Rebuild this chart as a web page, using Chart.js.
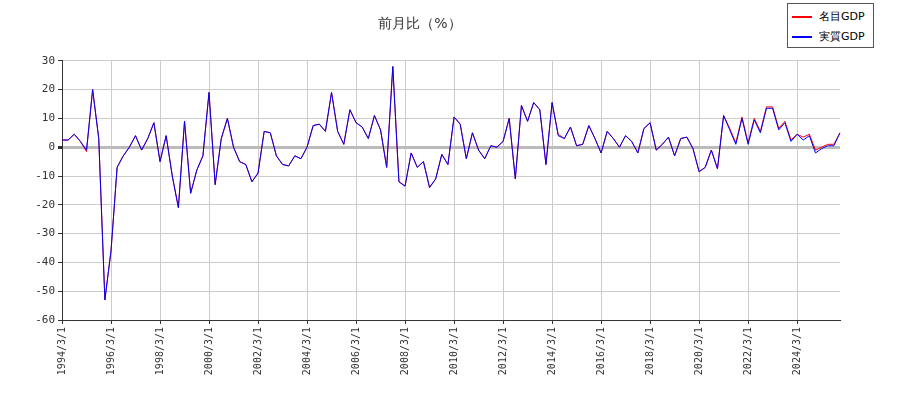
<!DOCTYPE html>
<html><head><meta charset="utf-8">
<script src="https://cdn.jsdelivr.net/npm/chart.js@4"></script>
<style>
body{margin:0;background:#fff;font-family:"DejaVu Sans",sans-serif;}
#wrap{position:relative;width:900px;height:400px;}
#legend{position:absolute;left:787px;top:3px;width:85px;height:43px;border:1px solid #555;background:#fff;font-size:11px;}
.it{position:absolute;left:4px;display:flex;align-items:center;}
.it span{display:inline-block;width:20px;height:2px;margin-right:7px;}
</style></head>
<body><div id="wrap"><canvas id="c" width="900" height="400"></canvas>
<div id="legend"><div class="it" style="top:5px"><span style="background:#f00"></span>名目GDP</div>
<div class="it" style="top:25px"><span style="background:#00f"></span>実質GDP</div></div></div>
<script>
const startYear = 1994;
const realGDP = [2.5,2.5,4.5,2,-1,20,3,-53,-36,-7,
-3,0,4,-1,3,8.5,-5,4,-10,-21,
9,-16,-8,-3,19,-13,3,10,0,-5,
-6,-12,-9,5.5,5,-3,-6,-6.5,-3,-4,
0,7.5,8,5.5,19,5.5,1,13,8.5,7,
3,11,6,-7,28,-12,-13.5,-2,-7,-5,
-14,-11,-2.5,-6,10.5,8,-4,5,-1,-4,
0.5,0,2,10,-11,14.5,9,15.5,13,-6,
15.5,4,3,7,0.5,1,7.5,3,-2,5.5,
3,0,4,2,-2,6.5,8.5,-1,1,3.5,
-3,3,3.5,-0.5,-8.5,-7,-1,-7.5,11,6,
1,10,1,9.5,5,13.5,13.5,6,8.5,2,
4.5,2.5,4,-2,-0.5,0.5,0.5,5];
const nominalGDP = [2.5,2.5,4.5,2,-1.5,20,3,-53,-36,-7,
-3,0,4,-1,3,8.5,-5,4,-10,-21,
9,-16,-8,-3,19,-13,3,10,0,-5,
-6,-12,-9,5.5,5,-3,-6,-6.5,-3,-4,
0,7.5,8,5.5,19,5.5,1,13,8.5,7,
3,11,6,-7,28,-12,-13.5,-2,-7,-5,
-14,-11,-2.5,-6,10.5,8,-4,5,-1,-4,
0.5,0,2,10,-11,14.5,9,15.5,13,-6,
15.5,4.5,3,7,0.5,1,7.5,3,-2,5.5,
3,0,4,2,-2,6.5,8.5,-1,1,3.5,
-3,3,3.5,-0.5,-8.5,-7,-1,-7.5,11,6.5,
1.5,10.5,1.5,10,5.5,14,14,6.5,9,2.5,
4.5,3.5,4.5,-1,0,1,1,5];
const yTicks = [30,20,10,0,-10,-20,-30,-40,-50,-60];
const labels = realGDP.map((_, i) => (startYear + Math.floor(i/4)) + '/' + (3*(i%4)+3) + '/1');
new Chart(document.getElementById('c'), {
  type: 'line',
  data: { labels, datasets: [
    {label:'実質GDP', data: realGDP, borderColor:'#00f', borderWidth:1, pointRadius:0, tension:0, order:0},
    {label:'名目GDP', data: nominalGDP, borderColor:'#f00', borderWidth:1, pointRadius:0, tension:0, order:1}
  ]},
  options: {
    responsive:false, animation:false,
    layout:{padding:{left:0,right:60,top:0,bottom:0}},
    plugins:{legend:{display:false}, tooltip:{enabled:false},
      title:{display:true,text:'前月比（%）',color:'#333',font:{size:14,family:'DejaVu Sans',weight:'normal'},padding:{top:16,bottom:28}}},
    scales:{
      x:{offset:false, afterFit:(s)=>{s.height=80;}, grid:{color:'#ccc', drawTicks:true, tickLength:4, tickColor:'#333'},
        border:{color:'#333'},
        ticks:{autoSkip:false, maxRotation:90, minRotation:90, color:'#333', font:{size:10,family:'DejaVu Sans Mono'},
          callback:function(v,i){return i%8===0 ? labels[i] : null;}}},
      y:{min:-60,max:30, afterFit:(s)=>{s.width=62;}, afterBuildTicks:(a)=>{a.ticks=yTicks.map(v=>({value:v}));},
        grid:{color:(c)=>c.tick.value===0?'#bbb':'#ccc', lineWidth:(c)=>c.tick.value===0?3:1, tickLength:4, tickColor:'#333'},
        border:{color:'#333'},
        ticks:{color:'#333', font:{size:11,family:'DejaVu Sans Mono'}}}
    }
  }
});
</script></body></html>
